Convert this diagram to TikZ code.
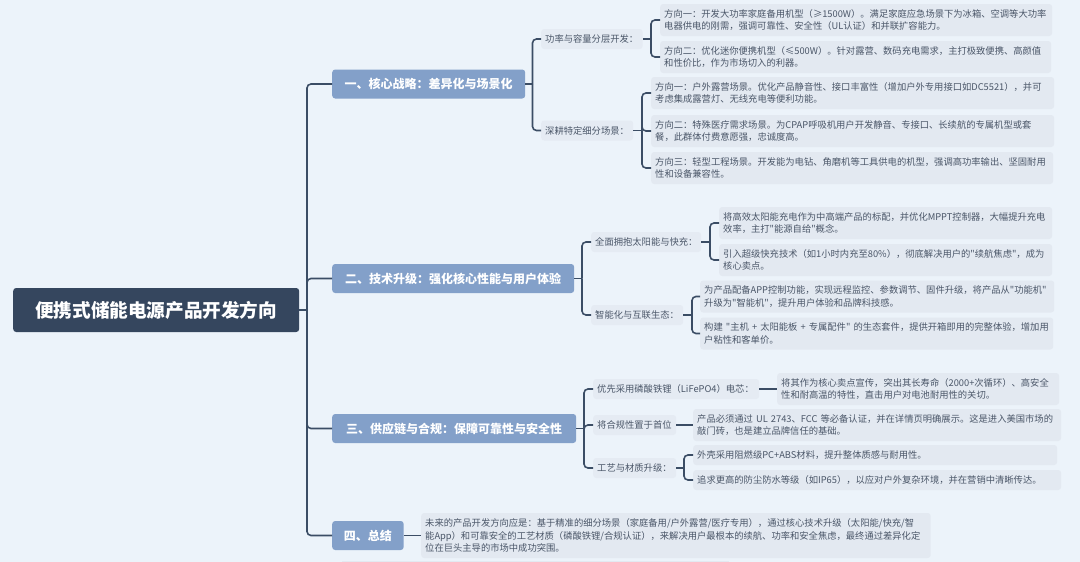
\documentclass[tikz,border=0pt]{standalone}
\usepackage{fontspec}
\newfontfamily\cjkfont{Noto Sans CJK SC}
\definecolor{pagebg}{HTML}{ECF3FA}
\definecolor{rootfill}{HTML}{35465E}
\definecolor{headfill}{HTML}{83A0C9}
\definecolor{subfill}{HTML}{E5EBF3}
\definecolor{leaffill}{HTML}{E3E9F1}
\definecolor{linkcol}{HTML}{3B4D65}
\definecolor{inkcol}{HTML}{4A5668}
\newcommand{\cma}{^^^^ff0c}
\newcommand{\cln}{^^^^ff1a}
\newcommand{\opn}{^^^^ff08}
\newcommand{\cls}{^^^^ff09}
\begin{document}
\begin{tikzpicture}[x=1pt,y=-1pt,
    rootbox/.style ={rounded corners=3pt, fill=rootfill, text=white, anchor=west, inner sep=0pt, minimum width=286pt, minimum height=44pt, font=\cjkfont\fontsize{18.6}{22}\selectfont\bfseries},
    headbox/.style ={rounded corners=3pt, fill=headfill, text=white, anchor=west, inner sep=0pt, minimum width=#1, minimum height=29pt, font=\cjkfont\fontsize{12}{15}\selectfont\bfseries},
    subbox/.style ={rounded corners=3pt, fill=subfill, text=inkcol, anchor=west, inner xsep=4pt, inner ysep=0pt, text width=#1, align=left, minimum height=20pt, font=\cjkfont\fontsize{9.3}{12.3}\selectfont},
    leafbox/.style ={rounded corners=3pt, fill=leaffill, text=inkcol, anchor=west, inner xsep=4pt, inner ysep=0pt, text width=#1, align=left, minimum height=32pt, font=\cjkfont\fontsize{9.3}{12.3}\selectfont},
    link/.style ={draw=linkcol, line width=1.6pt, rounded corners=4pt}]
   \fill[pagebg] (0,0) rectangle (1080,562);
   \fill[leaffill] (342,561) rectangle (729,562);
   % root and main heads
   \node[rootbox] (root) at (13,310) {便携式储能电源产品开发方向};
   \node[headbox=193pt] (one) at (332,84) {一、核心战略\cln{}差异化与场景化};
   \node[headbox=242pt] (two) at (332,278.5) {二、技术升级\cln{}强化核心性能与用户体验};
   \node[headbox=244pt] (three) at (332,428.5) {三、供应链与合规\cln{}保障可靠性与安全性};
   \node[headbox=71.5pt] (four) at (332,535.5) {四、总结};
   % branch one
   \node[subbox=93.5pt] (power) at (541,39) {功率与容量分层开发\cln};
   \node[subbox=84pt] (niche) at (541,130.5) {深耕特定细分场景\cln};
   \node[leafbox=384pt] (powerA) at (660,20) {方向一\cln{}开发大功率家庭备用机型\opn{}≥1500W\cls{}。满足家庭应急场景下为冰箱、空调等大功率\\电器供电的刚需\cma{}强调可靠性、安全性\opn{}UL认证\cls{}和并联扩容能力。};
   \node[leafbox=383pt] (powerB) at (660,57) {方向二\cln{}优化迷你便携机型\opn{}≤500W\cls{}。针对露营、数码充电需求\cma{}主打极致便携、高颜值\\和性价比\cma{}作为市场切入的利器。};
   \node[leafbox=395pt] (nicheA) at (651,93) {方向一\cln{}户外露营场景。优化产品静音性、接口丰富性\opn{}增加户外专用接口如DC5521\cls{}\cma{}并可\\考虑集成露营灯、无线充电等便利功能。};
   \node[leafbox=395pt] (nicheB) at (651,131) {方向二\cln{}特殊医疗需求场景。为CPAP呼吸机用户开发静音、专接口、长续航的专属机型或套\\餐\cma{}此群体付费意愿强\cma{}忠诚度高。};
   \node[leafbox=394pt] (nicheC) at (651,168) {方向三\cln{}轻型工程场景。开发能为电钻、角磨机等工具供电的机型\cma{}强调高功率输出、坚固耐用\\性和设备兼容性。};
   % branch two
   \node[subbox=102pt] (solar) at (591,242) {全面拥抱太阳能与快充\cln};
   \node[subbox=84pt] (smart) at (591,315) {智能化与互联生态\cln};
   \node[leafbox=325pt] (solarA) at (719,223) {将高效太阳能充电作为中高端产品的标配\cma{}并优化MPPT控制器\cma{}大幅提升充电\\效率\cma{}主打"能源自给"概念。};
   \node[leafbox=325pt] (solarB) at (719,260) {引入超级快充技术\opn{}如1小时内充至80\%\cls{}\cma{}彻底解决用户的"续航焦虑"\cma{}成为\\核心卖点。};
   \node[leafbox=346pt] (smartA) at (700,296.5) {为产品配备APP控制功能\cma{}实现远程监控、参数调节、固件升级\cma{}将产品从"功能机"\\升级为"智能机"\cma{}提升用户体验和品牌科技感。};
   \node[leafbox=345pt] (smartB) at (700,333.5) {构建 "主机 + 太阳能板 + 专属配件" 的生态套件\cma{}提供开箱即用的完整体验\cma{}增加用\\户粘性和客单价。};
   % branch three
   \node[subbox=158pt] (cell) at (593,389) {优先采用磷酸铁锂\opn{}LiFePO4\cls{}电芯\cln};
   \node[subbox=75pt] (cert) at (593,425) {将合规性置于首位};
   \node[subbox=75pt] (craft) at (593,468) {工艺与材质升级\cln};
   \node[leafbox=274pt] (cellA) at (777,389) {将其作为核心卖点宣传\cma{}突出其长寿命\opn{}2000+次循环\cls{}、高安全\\性和耐高温的特性\cma{}直击用户对电池耐用性的关切。};
   \node[leafbox=360pt] (certA) at (693,425) {产品必须通过 UL 2743、FCC 等必备认证\cma{}并在详情页明确展示。这是进入美国市场的\\敲门砖\cma{}也是建立品牌信任的基础。};
   \node[leafbox=356pt,minimum height=20pt] (craftA) at (693,455) {外壳采用阻燃级PC+ABS材料\cma{}提升整体质感与耐用性。};
   \node[leafbox=360pt,minimum height=20pt] (craftB) at (693,480) {追求更高的防尘防水等级\opn{}如IP65\cls{}\cma{}以应对户外复杂环境\cma{}并在营销中清晰传达。};
   % branch four
   \node[leafbox=501.5pt,minimum height=45pt] (sumup) at (421,535.5) {未来的产品开发方向应是\cln{}基于精准的细分场景\opn{}家庭备用/户外露营/医疗专用\cls{}\cma{}通过核心技术升级\opn{}太阳能/快充/智\\能App\cls{}和可靠安全的工艺材质\opn{}磷酸铁锂/合规认证\cls{}\cma{}来解决用户最根本的续航、功率和安全焦虑\cma{}最终通过差异化定\\位在巨头主导的市场中成功突围。};
   % junctions
   \coordinate (trunk) at (307,310);
   \coordinate (oneJ) at (532.5,84);
   \coordinate (twoJ) at (582,278.5);
   \coordinate (threeJ) at (584,428.5);
   \coordinate (powerJ) at (651,39);
   \coordinate (nicheJ) at (642,130.5);
   \coordinate (solarJ) at (710,242);
   \coordinate (smartJ) at (692,315);
   \coordinate (craftJ) at (684,468);
   % connectors
   \draw[link] (root.east) -- (trunk);
   \foreach \n in {one,two,three,four}
     \draw[link] (trunk) |- (\n.west);
   \draw[link] (one.east) -- (oneJ);
   \draw[link] (two.east) -- (twoJ);
   \draw[link] (three.east) -- (threeJ);
   \foreach \n in {power,niche}
     \draw[link] (oneJ) |- (\n.west);
   \foreach \n in {solar,smart}
     \draw[link] (twoJ) |- (\n.west);
   \foreach \n in {cell,cert,craft}
     \draw[link] (threeJ) |- (\n.west);
   \draw[link] (power.east) -- (powerJ);
   \draw[link] (niche.east) -- (nicheJ);
   \draw[link] (solar.east) -- (solarJ);
   \draw[link] (smart.east) -- (smartJ);
   \draw[link] (craft.east) -- (craftJ);
   \foreach \n in {powerA,powerB}
     \draw[link] (powerJ) |- (\n.west);
   \foreach \n in {nicheA,nicheB,nicheC}
     \draw[link] (nicheJ) |- (\n.west);
   \foreach \n in {solarA,solarB}
     \draw[link] (solarJ) |- (\n.west);
   \foreach \n in {smartA,smartB}
     \draw[link] (smartJ) |- (\n.west);
   \foreach \n in {craftA,craftB}
     \draw[link] (craftJ) |- (\n.west);
   \draw[link] (cell.east) -- (cellA.west);
   \draw[link] (cert.east) -- (certA.west);
   \draw[link] (four.east) -- (sumup.west);
 \end{tikzpicture}
\end{document}
